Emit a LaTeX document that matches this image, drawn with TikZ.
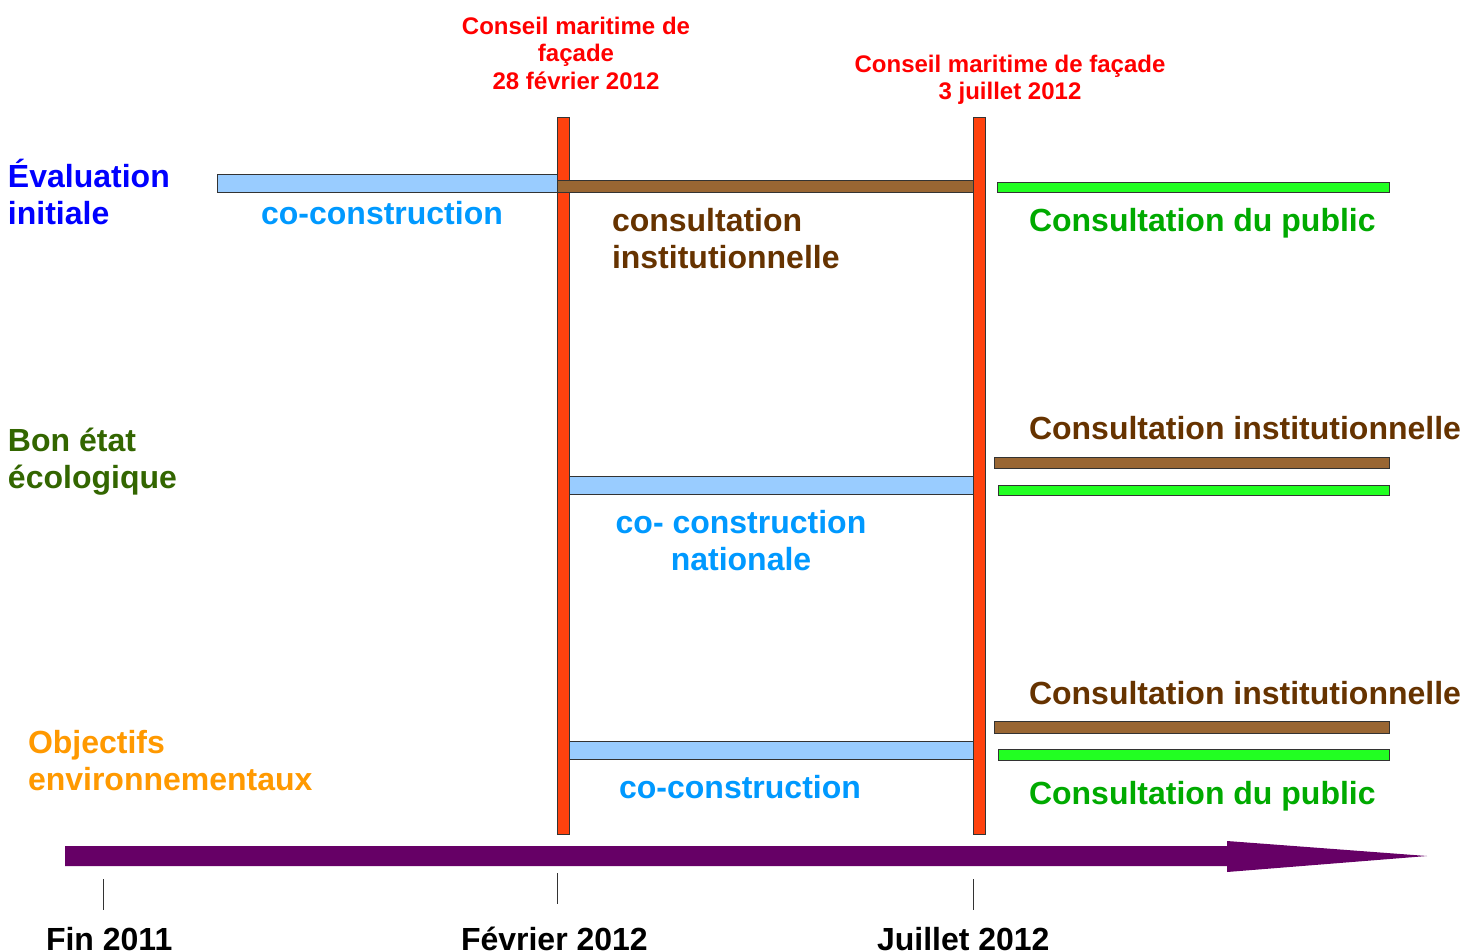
\documentclass[tikz,border=0pt]{standalone}
\usepackage{fontspec}
\setmainfont{Liberation Sans}
\definecolor{tblue}{HTML}{0000FF}
\definecolor{lblue}{HTML}{0099FF}
\definecolor{barblue}{HTML}{99CCFF}
\definecolor{barbrown}{HTML}{996633}
\definecolor{tbrown}{HTML}{663300}
\definecolor{bargreen}{HTML}{22FF22}
\definecolor{tgreen}{HTML}{00AA00}
\definecolor{dgreen}{HTML}{336600}
\definecolor{torange}{HTML}{FF9900}
\definecolor{tred}{HTML}{FF0000}
\definecolor{barred}{HTML}{FF420E}
\definecolor{tpurple}{HTML}{660066}
\definecolor{edge}{HTML}{333333}
\tikzset{
  bar/.style={draw=edge, line width=0.8pt, inner sep=0pt, outer sep=0pt, anchor=north west, rectangle},
  lbl/.style={inner sep=0pt, outer sep=0pt, font=\fontsize{32}{37}\selectfont\bfseries},
  lblw/.style={lbl, anchor=base west, align=left},
  lblc/.style={lbl, anchor=base, align=center},
  redlbl/.style={inner sep=0pt, outer sep=0pt, anchor=base, align=center, text=tred, font=\fontsize{24}{27.5}\selectfont\bfseries},
  tick/.style={draw=edge, line width=0.8pt},
}
\newcommand{\barnode}[6]{% name, fill, x1, y1, x2, y2
  \pgfmathsetmacro{\bw}{#5-#3}\pgfmathsetmacro{\bh}{#6-#4}%
  \node[bar, fill=#2, minimum width=\bw pt, minimum height=\bh pt] (#1) at (#3,#4) {};}
\begin{document}
\begin{tikzpicture}[x=1pt,y=-1pt]
\useasboundingbox[fill=white] (0,0) rectangle (1466,952);
% vertical council bars
\barnode{rA}{barred}{557}{117}{569}{834}
\barnode{rB}{barred}{973}{117}{985}{834}
% row 1
\barnode{bl1}{barblue}{217}{174}{557}{192}
\barnode{br1}{barbrown}{557}{180}{973}{192}
\barnode{gr1}{bargreen}{997}{182}{1389}{192}
% row 2
\barnode{bl2}{barblue}{569}{476}{973}{494}
\barnode{br2}{barbrown}{994}{457}{1389}{468}
\barnode{gr2}{bargreen}{998}{485}{1389}{495}
% row 3
\barnode{bl3}{barblue}{569}{741}{973}{759}
\barnode{br3}{barbrown}{994}{721}{1389}{733}
\barnode{gr3}{bargreen}{998}{749}{1389}{760}
% time arrow
\fill[tpurple] (65,846) -- (1227,846) -- (1227,841) -- (1427,856) -- (1227,872) -- (1227,866) -- (65,866) -- cycle;
% ticks
\coordinate (t1a) at (103,879); \coordinate (t1b) at (103,910);
\coordinate (t2a) at (557,873); \coordinate (t2b) at (557,904);
\coordinate (t3a) at (973,879); \coordinate (t3b) at (973,910);
\draw[tick] (t1a) -- (t1b);
\draw[tick] (t2a) -- (t2b);
\draw[tick] (t3a) -- (t3b);
% left labels (base = last line baseline)
\node[lblw, text=tblue] (eval) at (8,224) {Évaluation\\initiale};
\node[lblw, text=dgreen] (bon) at (8,488) {Bon état\\écologique};
\node[lblw, text=torange] (obj) at (28,790) {Objectifs\\environnementaux};
% row 1 labels
\node[lblc, text=lblue] (cc1) at (382,224) {co-construction};
\node[lblw, text=tbrown] (ci1) at (612,268) {consultation\\institutionnelle};
\node[lblw, text=tgreen] (cp1) at (1029,231) {Consultation du public};
% row 2 labels
\node[lblw, text=tbrown] (ci2) at (1029,439) {Consultation institutionnelle};
\node[lblc, text=lblue] (cc2) at (741,570) {co- construction\\nationale};
% row 3 labels
\node[lblw, text=tbrown] (ci3) at (1029,704) {Consultation institutionnelle};
\node[lblc, text=lblue] (cc3) at (740,798) {co-construction};
\node[lblw, text=tgreen] (cp3) at (1029,804) {Consultation du public};
% council labels
\node[redlbl] (cm1) at (576,89.3) {Conseil maritime de\\façade\\28 février 2012};
\node[redlbl, font=\fontsize{24}{26.6}\selectfont\bfseries] (cm2) at (1010,99.3) {Conseil maritime de façade\\3 juillet 2012};
% dates
\node[lblw, text=black] (d1) at (46,950) {Fin 2011};
\node[lblw, text=black] (d2) at (461,950) {Février 2012};
\node[lblw, text=black] (d3) at (877,950) {Juillet 2012};
\end{tikzpicture}
\end{document}
